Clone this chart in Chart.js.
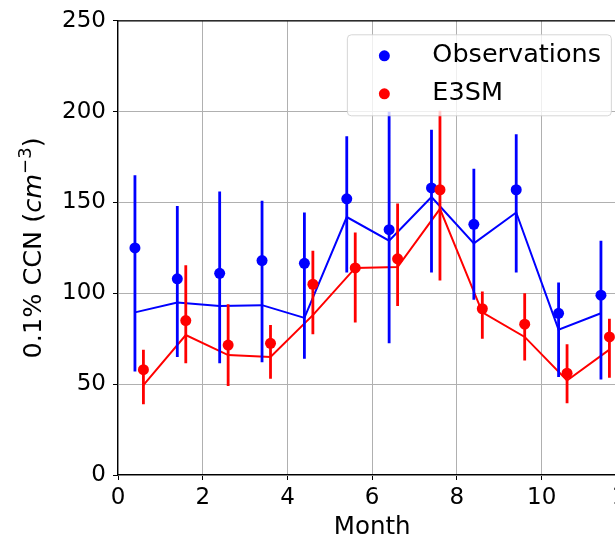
<!DOCTYPE html>
<html>
<head>
<meta charset="utf-8">
<script src="https://cdn.jsdelivr.net/npm/chart.js@4"></script>
<style>
  html, body { margin: 0; padding: 0; background: #fff; overflow: hidden; }
  #wrap { width: 645px; height: 542px; }
</style>
</head>
<body>
<div id="wrap"><canvas id="ccnChart" width="645" height="542"></canvas></div>
<script>
// monthly positions (obs shifted left, model shifted right)
const obsMonth = [0.4, 1.4, 2.4, 3.4, 4.4, 5.4, 6.4, 7.4, 8.4, 9.4, 10.4, 11.4];
const modMonth = [0.6, 1.6, 2.6, 3.6, 4.6, 5.6, 6.6, 7.6, 8.6, 9.6, 10.6, 11.6];

// Observations: mean (dots), error bar range, median (line)
const obsMean = [125, 108, 111, 118, 116.5, 152, 135, 158, 138, 157, 89, 99];
const obsLow  = [57, 65, 61.5, 62, 64, 111.5, 72.5, 111.5, 96.5, 111.5, 54, 52.5];
const obsHigh = [165, 148, 156, 151, 144.5, 186.5, 200, 190, 168.5, 187.5, 106, 129];
const obsMedian = [89.5, 95, 93, 93.5, 86.5, 142, 129, 153, 127.5, 144.5, 80, 89];

// E3SM
const modMean = [58, 85, 71.5, 72.5, 105, 114, 119, 157, 91.5, 83, 56, 76];
const modLow  = [39, 61.5, 49, 53, 77.5, 84, 93, 107, 75, 63, 39.5, 53.5];
const modHigh = [69, 115.5, 94, 82.5, 123.5, 133.5, 149.5, 200.5, 101, 100, 72, 86];
const modMedian = [49.5, 77, 66, 65, 88, 114, 114.5, 146.5, 89.5, 76, 52, 69];

const xTicks = [0, 2, 4, 6, 8, 10, 12];
const yTicks = [0, 50, 100, 150, 200, 250];

const BLUE = '#0000ff';
const RED = '#ff0000';
const FONT = 'DejaVu Sans';

const toPoints = (xs, ys) => xs.map((x, i) => ({ x: x, y: ys[i] }));

Chart.defaults.font.family = FONT;
Chart.defaults.color = '#000';

// vertical error bars, drawn just before the matching dot dataset
const errorBars = {
    id: 'errorBars',
    beforeDatasetDraw(chart, args) {
        const ds = chart.data.datasets[args.index];
        if (!ds.errLow) return;
        const xs = chart.scales.x, ys = chart.scales.y;
        const ctx = chart.ctx;
        ctx.save();
        ctx.strokeStyle = ds.backgroundColor;
        ctx.lineWidth = 2.8;
        ctx.beginPath();
        ds.data.forEach((p, i) => {
            const px = xs.getPixelForValue(p.x);
            ctx.moveTo(px, ys.getPixelForValue(ds.errLow[i]));
            ctx.lineTo(px, ys.getPixelForValue(ds.errHigh[i]));
        });
        ctx.stroke();
        ctx.restore();
    }
};

// top/right spines, rotated y title with superscript, legend box in the corner
const frame = {
    id: 'frame',
    afterDatasetsDraw(chart) {
        const { ctx, chartArea: a } = chart;
        ctx.save();
        ctx.strokeStyle = '#000';
        ctx.lineWidth = 1.2;
        ctx.beginPath();
        ctx.moveTo(a.left, a.top);
        ctx.lineTo(a.right, a.top);
        ctx.lineTo(a.right, a.bottom);
        ctx.stroke();
        ctx.restore();
    },
    afterDraw(chart) {
        const { ctx, chartArea: a } = chart;

        // y axis title: 0.1% CCN (cm^-3)
        ctx.save();
        ctx.translate(41, (a.top + a.bottom) / 2);
        ctx.rotate(-Math.PI / 2);
        ctx.fillStyle = '#000';
        ctx.textBaseline = 'alphabetic';
        const parts = [
            { t: '0.1% CCN (', f: '25.5px "' + FONT + '"', dy: 0 },
            { t: 'cm', f: 'italic 25.5px "' + FONT + '"', dy: 0 },
            { t: '\u22123', f: '18px "' + FONT + '"', dy: -10 },
            { t: ')', f: '25.5px "' + FONT + '"', dy: 0 }
        ];
        let total = 0;
        parts.forEach(p => { ctx.font = p.f; p.w = ctx.measureText(p.t).width; total += p.w; });
        let cx = -total / 2;
        parts.forEach(p => {
            ctx.font = p.f;
            ctx.fillText(p.t, cx, p.dy);
            cx += p.w;
        });
        ctx.restore();

        // legend
        const bw = 264, bh = 81;
        const bx = a.right - 15 - bw, by = a.top + 14;
        ctx.save();
        ctx.fillStyle = 'rgba(255,255,255,0.8)';
        ctx.strokeStyle = 'rgba(204,204,204,0.8)';
        ctx.lineWidth = 1;
        ctx.beginPath();
        ctx.roundRect(bx, by, bw, bh, 4);
        ctx.fill();
        ctx.stroke();
        const items = chart.data.datasets.filter(d => d.legendRow !== undefined);
        items.forEach(d => {
            const ry = by + 21 + d.legendRow * 38;
            ctx.fillStyle = d.backgroundColor;
            ctx.beginPath();
            ctx.arc(bx + 37, ry, 5.5, 0, Math.PI * 2);
            ctx.fill();
            ctx.fillStyle = '#000';
            ctx.font = '25.5px "' + FONT + '"';
            ctx.textBaseline = 'middle';
            ctx.fillText(d.label, bx + 85, ry);
        });
        ctx.restore();
    }
};

const ctx = document.getElementById('ccnChart').getContext('2d');

window.ccnChart = new Chart(ctx, {
    type: 'scatter',
    data: {
        datasets: [{
            label: 'E3SM',
            data: toPoints(modMonth, modMean),
            backgroundColor: RED,
            borderWidth: 0,
            pointRadius: 5.5,
            errLow: modLow,
            errHigh: modHigh,
            legendRow: 1,
            order: 0
        }, {
            label: 'Observations',
            data: toPoints(obsMonth, obsMean),
            backgroundColor: BLUE,
            borderWidth: 0,
            pointRadius: 5.5,
            errLow: obsLow,
            errHigh: obsHigh,
            legendRow: 0,
            order: 1
        }, {
            type: 'line',
            label: 'E3SM median',
            data: toPoints(modMonth, modMedian),
            borderColor: RED,
            borderWidth: 2,
            pointRadius: 0,
            fill: false,
            tension: 0,
            order: 2
        }, {
            type: 'line',
            label: 'Observations median',
            data: toPoints(obsMonth, obsMedian),
            borderColor: BLUE,
            borderWidth: 2,
            pointRadius: 0,
            fill: false,
            tension: 0,
            order: 3
        }]
    },
    options: {
        responsive: false,
        animation: false,
        layout: { padding: { top: 19, right: 18, left: 0, bottom: 0 } },
        plugins: {
            legend: { display: false },
            tooltip: { enabled: false }
        },
        scales: {
            x: {
                type: 'linear',
                min: 0,
                max: 12,
                afterBuildTicks: s => { s.ticks = xTicks.map(v => ({ value: v })); },
                afterFit: s => { s.height = 67; },
                ticks: { font: { size: 23 }, padding: 4, color: '#000' },
                grid: { color: '#b0b0b0', lineWidth: 1, tickColor: '#000', tickLength: 5 },
                border: { color: '#000', width: 1.2 },
                title: { display: true, text: 'Month', font: { size: 24.5 }, padding: { top: 0, bottom: 0 }, color: '#000' }
            },
            y: {
                min: 0,
                max: 250,
                afterBuildTicks: s => { s.ticks = yTicks.map(v => ({ value: v })); },
                afterFit: s => { s.width = 118; },
                ticks: { font: { size: 23 }, padding: 7, color: '#000' },
                grid: { color: '#b0b0b0', lineWidth: 1, tickColor: '#000', tickLength: 5 },
                border: { color: '#000', width: 1.2 }
            }
        }
    },
    plugins: [errorBars, frame]
});
</script>
</body>
</html>
